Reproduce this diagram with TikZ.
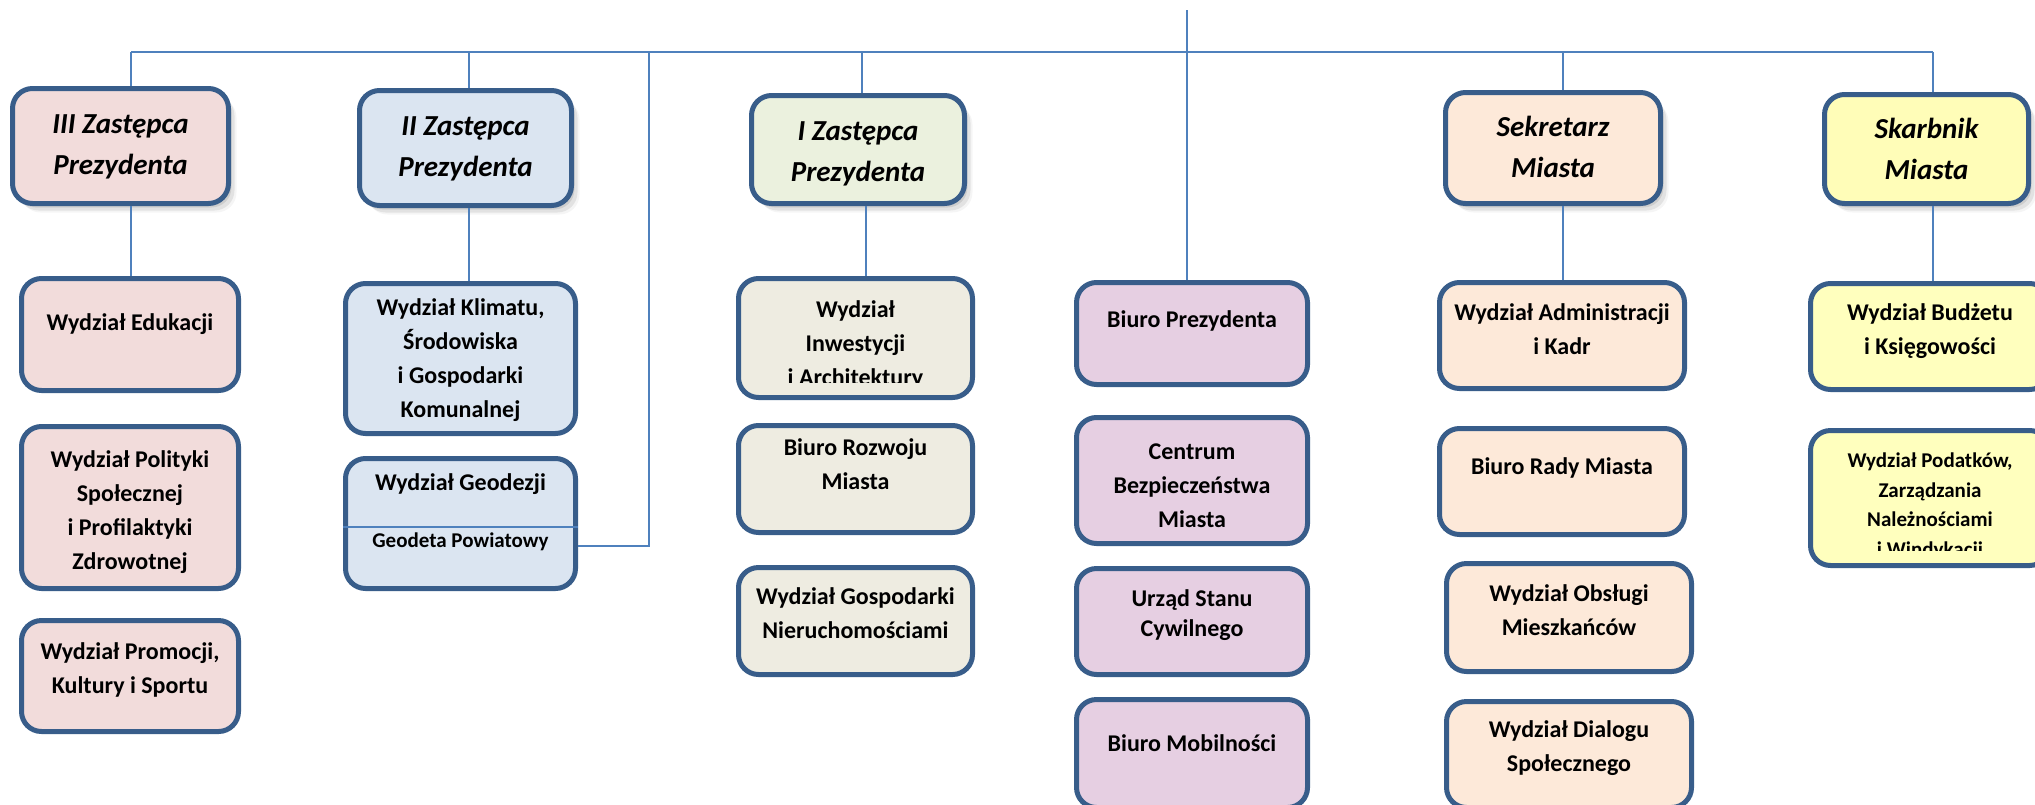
\documentclass[tikz,border=0pt]{standalone}
\usepackage{fontspec}
\setmainfont{Carlito}
\usetikzlibrary{shadows}

\definecolor{frame}{HTML}{385D8A}
\definecolor{wire}{HTML}{4F81BD}
\definecolor{rose}{HTML}{F2DCDB}
\definecolor{sky}{HTML}{DBE5F1}
\definecolor{sage}{HTML}{EBF1DE}
\definecolor{sand}{HTML}{EEECE1}
\definecolor{lilac}{HTML}{E6CFE2}
\definecolor{peach}{HTML}{FDE9D9}
\definecolor{lemon}{HTML}{FFFDB8}
\definecolor{lemonl}{HTML}{FFFFBE}

\newcommand\headfont{\fontsize{29}{41}\selectfont\bfseries\itshape}
\newcommand\unitfont{\fontsize{24}{34}\selectfont\bfseries}
\newcommand\geofont{\fontsize{21}{34}\selectfont\bfseries}
% width, height, first baseline from top, text
\newcommand\boxtext[4]{\parbox[c][#2pt][t]{#1pt}{\selectfont\centering
  \vspace*{\dimexpr#3pt-0.7\baselineskip\relax}\strut#4}}

\begin{document}
\begin{tikzpicture}
  [x=1pt,y=-1pt,
   bare/.style={inner sep=0pt,font=\unitfont},
   unit/.style={bare,draw=frame,line width=5pt,rounded corners=20pt},
   head/.style={unit,font=\headfont,
     drop shadow={shadow xshift=3pt,shadow yshift=-4pt,opacity=.22},
     drop shadow={shadow xshift=6pt,shadow yshift=-7pt,opacity=.16},
     drop shadow={shadow xshift=8pt,shadow yshift=-9pt,opacity=.08}},
   link/.style={draw=wire,line width=2pt}]

  \useasboundingbox (0,0) rectangle (2035,804);

  % kierownictwo
  \node[head,fill=rose]  (iii)   at (120.5,146) {\boxtext{216}{115}{44.5}{III Zastępca\\Prezydenta}};
  \node[head,fill=sky]   (ii)    at (465.5,148) {\boxtext{212}{115}{44.5}{II Zastępca\\Prezydenta}};
  \node[head,fill=sage]  (i)     at (858,149.5) {\boxtext{213}{108}{44.5}{I Zastępca\\Prezydenta}};
  \node[head,fill=peach] (sek)   at (1553,148)  {\boxtext{215}{111}{43.5}{Sekretarz\\Miasta}};
  \node[head,fill=lemon] (skarb) at (1926.5,149) {\boxtext{204}{109}{43.5}{Skarbnik\\Miasta}};

  % III Zastepca
  \node[unit,fill=rose] (edu)  at (130,334.5) {\boxtext{217}{112}{52}{Wydział Edukacji}};
  \node[unit,fill=rose] (pol)  at (130,507.5) {\boxtext{217}{162}{41}{Wydział Polityki\\Społecznej\\i Profilaktyki\\Zdrowotnej}};
  \node[unit,fill=rose] (prom) at (130,676)   {\boxtext{217}{111}{39}{Wydział Promocji,\\Kultury i Sportu}};

  % II Zastepca
  \node[unit,fill=sky] (klim) at (460.5,358.5) {\boxtext{230}{150}{32}{Wydział Klimatu,\\Środowiska\\i Gospodarki\\Komunalnej}};
  \node[unit,fill=sky] (geod) at (460.5,523.5) {\boxtext{230}{130}{32}{Wydział Geodezji\\[23pt]{\geofont Geodeta Powiatowy}}};
  \draw[link] ([yshift=-3.5pt]geod.west) -- ([yshift=-3.5pt]geod.east);

  % I Zastepca
  \node[unit,fill=sand] (inw) at (855.5,338) {\boxtext{234}{119}{39}{}};
  \begin{scope}
    \clip (736,276) rectangle (975,382);
    \node[bare] (inwtxt) at (inw) {\boxtext{234}{119}{39}{Wydział\\Inwestycji\\i Architektury}};
  \end{scope}
  \node[unit,fill=sand] (roz)  at (855.5,479) {\boxtext{234}{107}{29.5}{Biuro Rozwoju\\Miasta}};
  \node[unit,fill=sand] (gosp) at (855.5,621) {\boxtext{234}{107}{37}{Wydział Gospodarki\\Nieruchomościami}};

  % Prezydent
  \node[unit,fill=lilac] (bprez) at (1192,333.5) {\boxtext{231}{102}{45}{Biuro Prezydenta}};
  \node[unit,fill=lilac] (cbm)   at (1192,480.5) {\boxtext{231}{126}{42}{Centrum\\Bezpieczeństwa\\Miasta}};
  \node[unit,fill=lilac,font=\fontsize{24}{30.5}\selectfont\bfseries] (usc) at (1192,621.5) {\boxtext{231}{106}{37.5}{Urząd Stanu\\Cywilnego}};
  \node[unit,fill=lilac] (mob)   at (1192,753.5) {\boxtext{231}{108}{52}{Biuro Mobilności}};

  % Sekretarz
  \node[unit,fill=peach] (kadr) at (1562,335.5) {\boxtext{245}{106}{38}{Wydział Administracji\\i Kadr}};
  \node[unit,fill=peach] (rada) at (1562,481.5) {\boxtext{245}{106}{46}{Biuro Rady Miasta}};
  \node[unit,fill=peach] (obs)  at (1569,617.5) {\boxtext{245}{108}{38}{Wydział Obsługi\\Mieszkańców}};
  \node[unit,fill=peach] (dial) at (1569,754.5) {\boxtext{245}{106}{36}{Wydział Dialogu\\Społecznego}};

  % Skarbnik
  \node[unit,fill=lemonl] (budz) at (1930,336.5) {\boxtext{239}{106}{37}{Wydział Budżetu\\i Księgowości}};
  \node[unit,fill=lemonl] (pod)  at (1930,498)   {\boxtext{239}{135}{37}{}};
  \begin{scope}
    \clip (1808,428) rectangle (2035,550);
    \node[bare,font=\fontsize{21}{29.5}\selectfont\bfseries] (podtxt) at (pod) {\boxtext{239}{135}{37}{Wydział Podatków,\\Zarządzania\\Należnościami\\i Windykacji}};
  \end{scope}

  % polaczenia
  \coordinate (top) at (1187,10);
  \coordinate (d3) at (131,52);
  \coordinate (d2) at (469,52);
  \coordinate (d0) at (649,52);
  \coordinate (d1) at (862,52);
  \coordinate (d1b) at (866,52);
  \coordinate (ds) at (1563,52);
  \coordinate (dk) at (1933,52);

  \path[link]
     (top) -- (top |- bprez.north)
     (d3) -- (dk)
     (d3) -- (d3 |- iii.north)
     (d3 |- iii.south) -- (d3 |- edu.north)
     (d2) -- (d2 |- ii.north)
     (d2 |- ii.south) -- (d2 |- klim.north)
     ([yshift=-22.5pt]geod.east) -| (d0)
     (d1) -- (d1 |- i.north)
     (d1b |- i.south) -- (d1b |- inw.north)
     (ds) -- (ds |- sek.north)
     (ds |- sek.south) -- (ds |- kadr.north)
     (dk) -- (dk |- skarb.north)
     (dk |- skarb.south) -- (dk |- budz.north);

\end{tikzpicture}
\end{document}
